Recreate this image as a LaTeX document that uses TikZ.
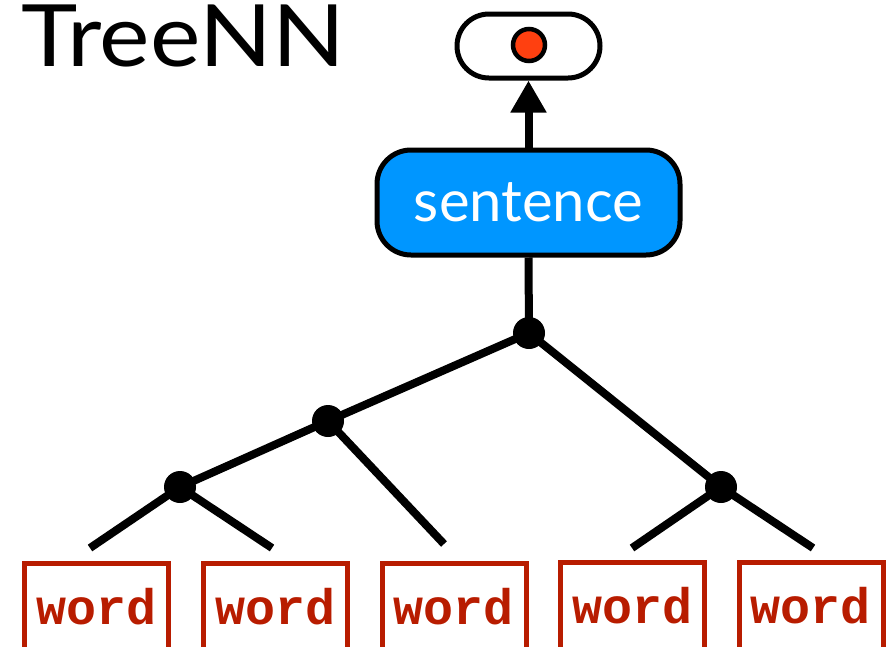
\documentclass[tikz,border=0pt]{standalone}
\usepackage{fontspec}
\setmainfont{Lato}
\newfontfamily\wordfont{Liberation Mono}
\usetikzlibrary{arrows.meta}
\definecolor{skyblue}{HTML}{0096FF}
\definecolor{wordred}{HTML}{B81C00}
\definecolor{dotred}{HTML}{FF4010}
\tikzset{
  edge/.style={line width=8pt},
  dot/.style={circle,fill=black,inner sep=0pt,minimum size=32pt},
  wordbox/.style={draw=wordred,line width=5pt,minimum width=144pt,inner sep=0pt,
     text height=61pt,text depth=50pt,anchor=north,text=wordred,
     font=\wordfont\bfseries\fontsize{50}{50}\selectfont},
}
\begin{document}
\begin{tikzpicture}[x=1pt,y=-1pt]
\useasboundingbox (0,0) rectangle (889,646);
\clip (0,0) rectangle (889,646);
\node[anchor=base west,inner sep=0pt,font=\fontsize{86}{86}\selectfont] (title) at (21,66) {\scalebox{1.11}[1]{TreeNN}};
% output
\node[draw,line width=5pt,rounded corners=32pt,minimum width=143pt,minimum height=64pt,inner sep=0pt] (out) at (528.5,46) {};
\node[circle,draw,line width=4.5pt,fill=dotred,minimum size=32pt,inner sep=0pt] (odot) at (529,45) {};
% sentence
\node[draw,fill=skyblue,line width=5pt,rounded corners=34pt,minimum width=303pt,minimum height=105pt,inner sep=0pt,
      text=white,font=\fontsize{58}{58}\selectfont] (sent) at (528.5,202.5) {\raisebox{-3pt}{sentence}};
\draw[edge,-{Triangle[length=32pt,width=34pt]}] (sent.north) -- (out.south);
% tree nodes
\node[dot] (r) at (529,333) {};
\node[dot] (a) at (328,421) {};
\node[dot] (b) at (721,487) {};
\node[dot] (c) at (180,487) {};
\coordinate (l1) at (90,548);
\coordinate (l2) at (272,548);
\coordinate (l3) at (444,544);
\coordinate (l4) at (632,548);
\coordinate (l5) at (813,548);
\draw[edge] (sent.south) -- (r.center);
\draw[edge] (r.center) -- (a.center);
\draw[edge] (r.center) -- (b.center);
\draw[edge] (a.center) -- (c.center);
\draw[edge] (a.center) -- (l3);
\draw[edge] (c.center) -- (l1);
\draw[edge] (c.center) -- (l2);
\draw[edge] (b.center) -- (l4);
\draw[edge] (b.center) -- (l5);
% words
\node[wordbox] (w1) at (96.5,561) {word};
\node[wordbox] (w2) at (275.5,561) {word};
\node[wordbox] (w3) at (454,561) {word};
\node[wordbox] (w4) at (632.5,560) {word};
\node[wordbox] (w5) at (811,560) {word};
\end{tikzpicture}
\end{document}
